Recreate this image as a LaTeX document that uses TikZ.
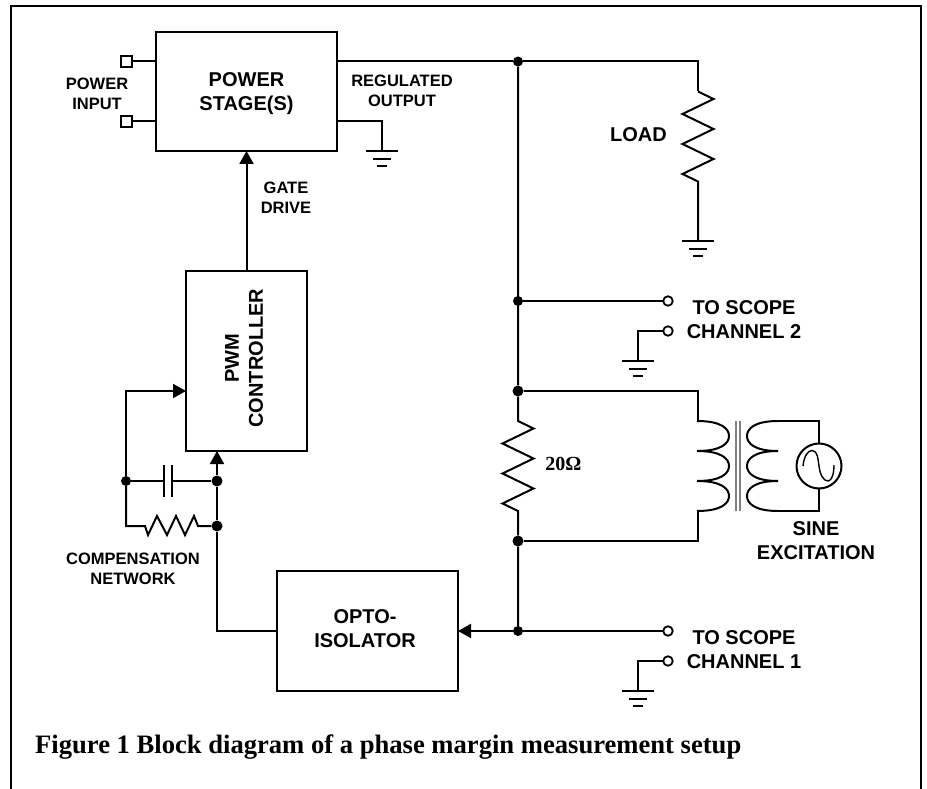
\documentclass[tikz,border=0pt]{standalone}
\usepackage{fontspec}
\setmainfont{Liberation Sans}
\newfontfamily\capfont{Liberation Serif}
\usetikzlibrary{arrows.meta}
\newcommand{\zigv}{-- ++(15.5,7.5) -- ++(-31,15) -- ++(31,15) -- ++(-31,15) -- ++(31,15) -- ++(-31,15) -- ++(15.5,7.5)}
\tikzset{
    wire/.style={line width=2pt},
    arr/.style={wire, -{Triangle[length=13pt,width=14pt]}},
    blockbox/.style={draw, line width=2pt, outer sep=0pt},
    biglab/.style={inner sep=0pt, align=center, font=\bfseries\fontsize{20}{24}\selectfont},
    smalllab/.style={inner sep=0pt, align=center, font=\bfseries\fontsize{16.5}{20}\selectfont},
    dot/.style={circle, fill=black, inner sep=0pt, minimum size=10pt},
    jack/.style={circle, draw, fill=white, line width=1.8pt, inner sep=0pt, minimum size=9.5pt, outer sep=0pt},
    pin/.style={rectangle, draw, fill=white, line width=1.8pt, inner sep=0pt, minimum size=11pt, outer sep=0pt}
}
\begin{document}
\begin{tikzpicture}[x=1pt,y=-1pt]
    \useasboundingbox (0,0) rectangle (927,789);
    \draw[line width=2.2pt] (11,789) -- (11,6) -- (921,6) -- (921,789);
    % blocks
    \node[blockbox, minimum width=181pt, minimum height=119pt] (power) at (246.5,91.5) {};
    \node[biglab] (powertext) at (246.5,93.5) {POWER\\STAGE(S)};
    \node[blockbox, minimum width=121pt, minimum height=180pt] (pwm) at (246.5,361) {};
    \node[biglab, rotate=90] (pwmtext) at (244,358) {PWM\\CONTROLLER};
    \node[blockbox, minimum width=181pt, minimum height=120pt] (opto) at (367.5,631) {};
    \node[biglab] (optotext) at (365,629) {OPTO-\\ISOLATOR};
    % junctions and ends
    \node[pin] (pinA) at (126.5,61.5) {};
    \node[pin] (pinB) at (126.5,121.5) {};
    \node[dot] (jtop) at (518,61.5) {};
    \node[dot] (jscope) at (518,301) {};
    \node[dot, minimum size=11pt] (jprim) at (518,391) {};
    \node[dot, minimum size=11pt] (jsec) at (518,541) {};
    \node[dot] (jopto) at (518,631) {};
    \node[dot] (jfb) at (126,481) {};
    \node[dot, minimum size=11pt] (jcap) at (217,481) {};
    \node[dot, minimum size=11pt] (jres) at (217,526) {};
    \node[jack] (chTwoA) at (668,301) {};
    \node[jack] (chTwoB) at (668,331) {};
    \node[jack] (chOneA) at (668,631) {};
    \node[jack] (chOneB) at (668,661) {};
    \coordinate (gpow) at (382,151.5);
    \coordinate (gload) at (698,241);
    \coordinate (gtwo) at (638,361);
    \coordinate (gone) at (638,691);
    \coordinate (loadtop) at (698,91.5);
    \coordinate (rtop) at (518,421);
    \coordinate (primtop) at (698,421);
    \coordinate (primbot) at (698,511);
    \coordinate (pwmfb) at (186,391);
    \coordinate (capL) at (164,481);
    \coordinate (capR) at (172,481);
    \coordinate (rcompL) at (145,526);
    \coordinate (rcompR) at (198,526);
    % power side
    \draw[wire] (pinA) -- (pinA -| power.west);
    \draw[wire] (pinB) -- (pinB -| power.west);
    \draw[wire] (power.east |- jtop) -- (jtop) -| (loadtop);
    \draw[wire] (loadtop) \zigv -- (gload);
    \draw[wire] (power.east |- pinB) -| (gpow);
    \draw[arr] (pwm.north) -- (power.south);
    % main rail
    \draw[wire] (jtop) -- (jprim) -- (rtop) \zigv -- (jsec) -- (jopto);
    \draw[wire] (jscope) -- (chTwoA);
    \draw[wire] (jopto) -- (chOneA);
    \draw[wire] (chTwoB) -| (gtwo);
    \draw[wire] (chOneB) -| (gone);
    \draw[arr] (jopto) -- (opto.east);
    \foreach \g in {gpow,gload,gtwo,gone} {
        \draw[wire] (\g) ++(-16,0) -- ++(32,0);
        \draw[wire] (\g) ++(-9,7.5) -- ++(18,0);
        \draw[wire] (\g) ++(-5,15) -- ++(10,0);
    }
    % transformer
    \draw[wire] (jprim) -| (primtop);
    \draw[wire] (jsec) -| (primbot);
    \foreach \a in {421,451,481} {
        \draw[wire] (697,\a) .. controls (722,\a) and (729,\a+8) .. (729,\a+15) .. controls (729,\a+22) and (722,\a+30) .. (697,\a+30);
        \draw[wire] (778,\a) .. controls (754,\a) and (747,\a+8) .. (747,\a+15) .. controls (747,\a+22) and (754,\a+30) .. (778,\a+30);
    }
    \draw[gray, line width=1.4pt] (736,421) -- (736,511);
    \draw[gray, line width=1.4pt] (740,421) -- (740,511);
    \node[circle, draw, line width=2pt, minimum size=45pt, inner sep=0pt, outer sep=0pt] (sine) at (819,466) {};
    \draw[wire] (775,421) -| (sine.north);
    \draw[wire] (775,511) -| (sine.south);
    \draw[line width=1.4pt] (803,466) .. controls (804,456) and (808,450.5) .. (812,450.5) .. controls (818,450.5) and (818,460) .. (819,466) .. controls (820,474) and (823,481) .. (828,481) .. controls (832,481) and (834,473) .. (834,465);
    % compensation network
    \draw[arr] (jfb) |- (pwmfb);
    \draw[wire] (jfb) |- (rcompL) -- ++(3,9) -- ++(9,-19) -- ++(10,19) -- ++(9,-19) -- ++(9,19) -- ++(9,-19) -- (rcompR) -- (jres);
    \draw[wire] (jfb) -- (capL);
    \draw[wire] (capR) -- (jcap);
    \draw[line width=1.5pt] (capL) ++(0,-16) -- ++(0,32);
    \draw[line width=1.5pt] (capR) ++(0,-16) -- ++(0,32);
    \draw[wire] (opto.west) -| (jres);
    \draw[wire] (jres) -- (jcap);
    \draw[arr] (jcap) -- (jcap |- pwm.south);
    % labels
    \node[smalllab] (lblinput) at (97,94) {POWER\\INPUT};
    \node[smalllab] (lblreg) at (402,91) {REGULATED\\OUTPUT};
    \node[smalllab] (lblgate) at (286,198) {GATE\\DRIVE};
    \node[smalllab] (lblcomp) at (133,569) {COMPENSATION\\NETWORK};
    \node[biglab] (lblload) at (638.5,135) {LOAD};
    \node[biglab] (lblone) at (744,649.5) {TO SCOPE\\CHANNEL 1};
    \node[biglab] (lbltwo) at (744,319.5) {TO SCOPE\\CHANNEL 2};
    \node[biglab] (lblsine) at (816,541) {SINE\\EXCITATION};
    \node[inner sep=0pt, font=\capfont\bfseries\fontsize{20}{24}\selectfont] (lblohm) at (563.5,464) {20Ω};
    \node[inner sep=0pt, anchor=base west, font=\capfont\bfseries\fontsize{26.6}{30}\selectfont] (caption) at (35,753.5) {Figure 1 Block diagram of a phase margin measurement setup};
\end{tikzpicture}
\end{document}
